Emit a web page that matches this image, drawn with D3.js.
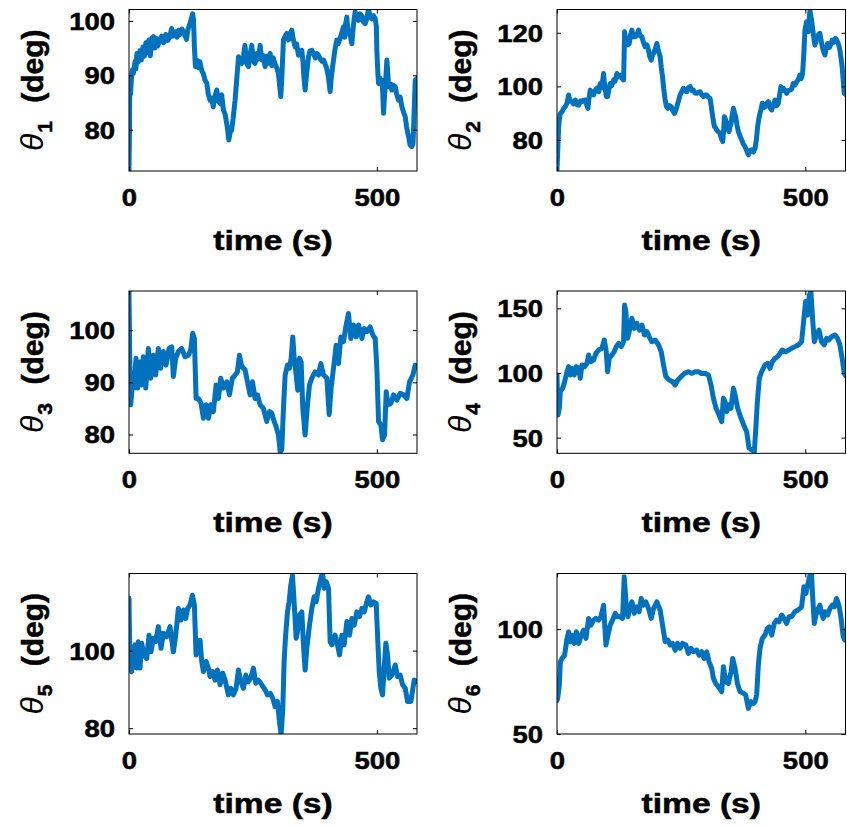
<!DOCTYPE html>
<html><head><meta charset="utf-8">
<script src="https://cdn.jsdelivr.net/npm/d3@7"></script>
<style>body{margin:0;background:#fff} svg{display:block}</style>
</head><body>
<svg id="c" width="847" height="826"></svg>
<script>
// ---------- DATA ----------
const xTicks = [0, 500];
const xLimits = [0, 581];

const time1 = [0,1,1.5,3,5,7,9,12,14,16,19,22,25,28,31,34,37,40,43,46,49,52,55,58,62,66,70,74,78,82,86,89,93,97,100,103,107,111,116,119,122,126,128.5,130,132,134,137,140,143,147,150,153,157,160,163.5,167,170,173,177,180,184,187,190.5,194,197,199,201.3,204,207,210,214,218,221,224,227.5,231,234,237,241,244,247.7,251,254.4,258,261,264.5,268,271,274.6,278,281,284.7,288,291,294.8,298,301.5,304,306.2,308.5,311.6,315,318.3,322,325,328.4,331,335.2,338,341.9,345,348.6,351,353,355.3,358,362.1,365,368.8,372,376,379,382.3,386,389,392.4,396,399,402.5,405.8,408,412.5,416,419.3,422,426,429,432.7,435,437,439.5,441,442.8,446,449.6,452,454,456.3,459,463,466,469.8,473,476.5,480,483.2,486,490,493,496.7,499,500,502,503.4,506,508,510.1,512,513.5,515,516.9,518.5,520.2,522,523.6,527,530.3,533,537.1,540,543.8,547,550.5,554,557.2,560,564,567,570.7,573,574,577.4,580.8];
const theta1 = [72.6,80,86.7,86.5,89.5,91,90.4,92.5,91.2,94,92.5,94.5,92.8,95.2,93.5,96,94.2,96.5,93.6,96.8,97.1,95,96.8,95.4,96.5,97.2,96,97.5,96.4,97,98.6,97.2,98,97,98.3,97.5,98.5,97.8,96.6,98.5,99.2,100.6,101.3,100.5,95,91.6,92.8,91.4,92.5,90.8,90.3,89.2,88.5,86.5,85.4,85.8,84.2,86,87.3,85.3,84.8,86.4,83.6,82.8,81.2,80,78.1,79.5,79.9,82,85.4,90,93.4,92.5,92.2,93.6,95.5,92.3,91.6,93.8,95.5,92.5,92.2,94,93,95.5,92.8,93.6,91.6,93.5,92.2,94,91.8,93.2,92,91.4,90.3,88,86.1,90,96.5,97.2,97.7,96.5,97.5,98.3,96.8,95.2,95.8,93.7,94.4,94.6,92.5,89.5,87.3,90,93.4,94.5,94.6,94,93.2,94,93.7,93,92.6,92.8,92,91.2,89.5,87,89.5,92.8,95,96.5,95.8,96.8,97.8,98.9,97,99.5,100.7,99,97.7,97.5,95.8,98.5,100.2,101.7,100.8,100.1,101.3,100.9,99.8,99.5,100.5,102.3,100.8,100.4,101,100.4,99,94.6,90.5,88.5,89.5,88.6,89.1,86.5,83,85.5,87.9,90,92.8,90.5,87.9,88.4,87.3,88.2,87.9,86.5,85.4,86,84.2,83.2,82.4,80.5,78.7,77.2,76.9,77.5,80,89.1,89.4];
const yTicks1 = [80, 90, 100];
const yLimits1 = [72.4, 102.1];

const time2 = [0,1.3,3.4,5,6.7,10,13.4,17,20.1,23.5,26,30.2,33,36.9,40,43.6,47,50.3,53,57,60,62.3,64,67,70,73.7,77,80.4,84,87.1,90,93.8,95.5,97.2,99.5,101.9,104.5,107.2,110,113.9,117,120.6,124,127.3,131,134,135,136.1,138,140.7,143,145.4,148,150.8,154,157.5,161,164.2,167,170.9,174,177.6,181,184.3,187,189.7,192,194.4,198,201.1,204.5,207.8,210,212.5,215,217.8,220.5,223.2,226.5,229.9,233,236.6,239,241.3,244.5,248,251,254.7,258,261.4,264.5,268.1,271.5,274.8,278,281.5,285,288.2,291.5,294.9,298,301.6,305,308.3,310,311.6,314,317,319.5,321.7,325,328.4,331,333.8,335.5,337.1,339.5,341.8,344,346.5,348.5,350.5,353,355.2,357.5,359.9,362.5,365.3,368.5,372,375,378.7,382,385.4,388.5,392.1,395.5,398.8,401.5,404.1,406.5,408.8,411,413.5,416,418.9,422,425.6,429,432.3,435.5,439,442.5,445.7,448.5,451,453.5,455.7,459,462.4,465.8,469.1,472.5,475.8,479,482.5,486,489.2,492,494.6,497,499.3,501,502.7,504.5,506,507.8,509.4,511,512.7,514.5,516.1,518,519.4,522,524.8,527,529.5,532,534.2,537,539.5,542,544.9,547.5,549.6,552,554.3,557.5,561,564,566.3,568,569.7,572,574.3,576.5,578.4,581];
const theta2 = [68.8,75,85,88,89.9,90.5,91.8,92.5,93.7,96.8,94.5,94.3,93.5,94.9,93.2,93,94.5,94.3,94.8,94.9,93,91.8,95,98.6,97.2,96.8,98.5,99.3,98,101.1,99.5,104.8,101,98.6,96.2,96.2,99,101.1,100.2,102.4,102,104.8,103.5,104.2,103,102.4,110,120.4,118,117.3,115.5,116,119,121,118.5,118.5,119.2,121,119,118.5,116.5,114.8,115.5,113.5,111,109.8,111.5,112.3,114,116,113,111.1,107,103.6,99,94.9,92.5,91.8,92.8,92.4,91,89.9,91,92.4,94.5,96.8,98,99.3,98.3,98,99.5,99.9,98.5,98.6,97.5,97.4,97.8,98,96.8,96.2,96.8,96.8,96,95.5,93.5,91.2,88,85,84.5,83.7,83,82.5,80.5,79.4,83,88.7,87.5,86.2,84.5,83.1,85,86.2,89.5,91.8,90,88.7,85.5,83.1,81.5,80,78.5,77.5,76,74.4,76,76.3,75.5,76.9,80,85,88,89.9,91.5,93.7,92,92.4,93.5,94.3,92,91.2,93,94.9,92.8,93.7,97,99.9,98.5,99.3,98.5,97.4,98.5,98.6,99,101.1,100.5,101.7,102.5,104.2,103,104.8,112,121,122.5,124.1,122,120.4,125,128.4,126.5,124.7,122,119.8,117,115.4,117,117.9,119.5,119.8,117,114.8,113,111.7,114,116,114.5,114.8,116,117.3,116.5,117.9,117,116,115,113.5,110.5,107.3,102,97.4,97];
const yTicks2 = [80, 100, 120];
const yLimits2 = [68.4, 128.7];

const time3 = [0,1.5,3.4,5.5,7.4,10.1,14.1,17.5,22.2,25.6,28.9,33.7,39,43.7,49.1,53.8,59.2,63.9,69.3,74.7,80.8,86.1,89.5,94.2,99.6,106.3,113.1,119.8,124.5,128.5,131.9,135.3,140,145.4,150.1,155.5,160.2,164.9,170.3,175.7,180.4,185.1,190.5,197.2,202.6,208.6,214,218.7,222.8,227.5,234.2,238.9,244.3,249,254.4,259.1,264.5,271.2,277.9,283.3,288,292.8,296.8,301.5,304.9,308.2,311.6,315,319.7,323.7,327.1,330.4,333.1,337.2,340.5,343.9,347.3,350.6,355.3,360.1,364.1,368.8,375.5,382.3,387,392.4,399.1,403.8,407.8,412.5,417.9,422.6,427.4,432.7,438.1,442.8,447.5,452.9,458.3,463,469.8,474.5,479.8,486.6,492,496.7,500,503.4,508.1,511.5,515.5,518.9,522.2,528.3,533.7,540.4,547.1,553.9,560.6,566,572.7,577.4,580.8];
const theta3 = [107.3,95,85.7,88,91.4,88.9,94.6,88.9,93.9,89.5,94.9,88.9,96.5,90.8,95.2,91.4,96.5,92.7,95.9,93.3,96.5,96.8,91.1,94.6,95.9,96.5,94.9,95.2,96.2,99.4,98.4,86.9,86.9,86,83.1,85.7,83.1,85.7,84.4,89.5,86.9,90.8,88.9,90.1,87.6,90.8,91.4,92,95.2,93,92.4,90.1,87.6,90.1,86.9,87.6,85.7,85,82.5,84.4,84.1,82.5,81.5,79.9,76.7,77.1,85,91.4,93.3,92.7,94.6,98.7,94.9,91.4,88.5,94.6,93.9,85,79.9,85.7,89.5,90.8,92,91.4,93.6,91.4,90.8,83.8,88.9,92.7,97.1,93.6,98.7,97.8,101,103.2,98.4,101,98.7,101,98.4,100.3,99.7,100.6,99,98.4,92.7,82.5,81.8,79,79.9,88.2,85.7,86,87.6,86.6,87.9,87.6,86.9,90.1,91.4,93.3,93];
const yTicks3 = [80, 90, 100];
const yLimits3 = [76.4, 107.5];

const time4 = [0,2,4.7,6.7,11.4,15.4,20.1,23.5,26.8,30.2,34.9,38.9,43.6,46.9,50.3,55.6,60.3,63.7,68.4,73.7,78.4,83.8,90.5,95.2,99.2,101.9,105.2,110.6,115.3,119.3,124,129.4,134,136.1,138.7,142.1,145.4,150.8,155.5,160.8,166.2,170.9,176.3,181,185.6,191,197.7,204.4,209.8,214.5,219.2,225.9,232.6,237.9,243.3,250,256.7,264.7,271.4,278.1,284.8,290.2,298.2,304.9,310.3,315,320.4,326.4,331.7,335.1,338.5,341.8,346.5,350.5,355.2,358.6,363.9,370.6,377.3,382,386.7,392.1,397.4,400.8,403.5,407.5,412.2,418.9,424.2,428.9,433.6,439,444.3,449,453.7,460.4,467.1,472.5,479.2,485.9,492.6,497.3,500.6,504.7,508,511.4,514.7,518.1,522.8,527.5,532.8,538.2,542.9,547.6,552.9,559.6,565,569.7,574.3,578.4,581];
const theta4 = [98.5,67.5,72.7,85.6,88.2,93.3,101,104.9,98.5,103.6,98.5,104.9,103.6,95.9,106.2,104.9,107.5,113.9,108.8,110.1,115.2,117.8,119.1,125.5,116.5,101,111.3,113.9,116.5,120.4,122.9,120.4,124.2,152.6,147.4,126.8,132,142.3,134.5,138.4,133.2,137.1,129.4,132,128.1,124.2,125.5,121.7,116.5,106.2,97.2,94.6,93.3,90.7,94.6,97.2,99.7,101,99.7,101,101,99.7,99.7,98.5,90.7,80.4,72.7,67.5,62.4,80.4,77.8,70.1,75.3,72.7,88.2,83,72.7,65,58.5,54.6,41.8,40.5,39.2,59.8,77.8,96,101,106.2,107.5,103.6,108.8,111.3,112.6,115.2,117.8,116.5,117.8,119.1,120.4,121.7,124.2,142.3,155.2,144.8,160.3,162.9,142.3,124.2,129.4,133.2,124.2,121.7,126.8,125.5,128.1,129.4,126.8,121.7,111.3,99.7,98];
const yTicks4 = [50, 100, 150];
const yLimits4 = [37.9, 163.4];

const time5 = [0,2,5.4,8.7,12.1,15.5,18.8,22.2,25.6,30.3,35.7,40.4,44.4,49.1,53.8,59.2,64.6,69.3,76,82.8,89.5,94.2,99.6,105,109.7,114.4,118.4,123.2,127.9,131.9,135.3,140,143.3,146.7,150.1,155.5,160.2,163.5,168.9,173.6,178.3,183.7,189.1,193.8,200.5,205.3,210.6,216,220.8,225.5,230.8,235.6,240.9,245.6,251,255.7,261.1,267.9,274.6,279.3,284.7,290.1,294.8,299.5,303.5,306.9,310.3,312.9,315.6,319.7,323,326.4,329.8,333.1,337.2,340.5,343.9,348.6,352,355.3,358.7,364.1,368.8,373.5,377.6,382.3,387,390.3,393.7,397.7,402.5,405.8,409.2,415.9,420.6,424.7,429.4,434.1,439.5,444.9,449.6,454.3,459.7,465,469.8,474.5,479.8,483.2,487.9,493.3,498.7,501.4,504.8,508.1,511.5,514.8,518.2,521.6,524.9,530.3,537.1,541.8,547.1,551.9,557.2,562,568.7,572.7,575.4,580.8];
const theta5 = [113.5,96.3,94.6,99.7,101.5,95.5,102.3,95.5,101.9,98.9,98,104,99.7,103.2,102.3,106.2,100.6,104.5,103.6,106.2,99.7,104,110.9,107.9,110.5,108.3,110.9,111.8,114.3,111.8,98.9,100.6,102.7,97.2,94.6,97.2,95.5,93.3,94.6,92.4,95,91.2,94.2,92.4,88.6,90.3,88.6,90.3,95,92,90.3,93.7,92,92.9,95.5,91.6,92.4,91.2,89.9,88.6,89,87.7,85.6,86.9,81.7,78.3,85.1,97.2,103.2,110,112.6,116.9,119.5,112.6,103.2,105.3,109.2,110,101.5,95,100.6,106.6,110.9,113.9,112.6,116.1,118.6,120.3,116.1,117.8,116.1,102.3,101.5,104,101.5,98.9,104,101.5,107.5,104,108.3,106.6,110,108.8,110.9,110,112.6,113.9,111.8,112.6,112.2,104,94.6,90.3,88.6,95.5,101.9,98.9,92.9,93.7,96.3,93.3,93.7,91.2,90.3,86.9,86.9,90.3,92.4,92];
const yTicks5 = [80, 100];
const yLimits5 = [78.5, 119.9];

const time6 = [0,1.3,4.7,6.7,10.1,15.4,20.1,23.5,26.8,30.2,34.9,38.9,43.6,48.9,53.6,58.3,63.7,68.4,73.7,78.4,83.8,88.5,93.8,98.5,102.5,107.2,111.9,117.3,122,127.3,132,135.4,139.4,142.8,146.1,150.8,155.5,160.8,165.5,169.6,174.3,179,184.3,189.7,194.4,201.1,207.8,212.5,217.8,223.2,227.9,232.6,237.9,242.6,248,252.7,259.4,264.7,270.1,274.8,281.5,286.2,291.5,296.2,301.6,306.3,311.6,315,319.7,325,331.7,335.1,339.8,345.2,350.5,353.9,358.6,363.3,368.6,375.3,380,385.4,390.1,395.4,398.8,402.1,405.5,408.8,413.5,418.9,423.6,427.6,432.3,437.6,442.3,447,452.4,457.1,462.4,467.1,472.5,479.2,484.5,489.2,492.6,497.3,501.3,504.7,509.4,512.7,514.7,518.1,521.5,526.1,529.5,532.8,536.2,539.5,544.9,549.6,554.3,558.3,563,567.6,571.7,576.4,579.7];
const theta6 = [66,67,73.3,84.4,86,87.6,95.6,98.7,94,97.1,93.2,98.7,93.2,97.1,99.5,95.6,105.1,101.9,104.3,105.1,104.3,105.9,111.4,92.4,97.1,101.9,104.3,107.5,105.9,105.9,105.1,124.9,111.4,105.9,109.8,113,107.5,110.6,108.3,114.6,111.4,113,109.8,105.1,109.8,113,109,101.9,94,94.8,92.4,93.2,90,93.2,90.8,93.2,92.4,88.4,90.8,89.2,90,87.6,89.2,86,89.2,84.4,81.3,76.5,74.1,72.5,70.2,82.1,74.9,74.1,79.7,86,81.3,74.1,70.2,69.4,68.6,62.2,65.4,64.6,65.4,68.6,82.9,90.8,95.6,97.1,100.3,101.1,97.1,102.7,104.3,103.5,106.7,105.1,102.7,105.9,105.9,108.3,109,109.8,110.6,120.2,117,120.9,125.7,126.5,116.2,102.7,106.7,109.8,111.4,107.5,105.1,108.3,106.7,109.8,111.4,110.6,114.6,111.4,105.9,96.3,94.8];
const yTicks6 = [50, 100];
const yLimits6 = [50, 126.5];

const subscripts = ["1", "2", "3", "4", "5", "6"];
const xLabelText = "time (s)";
const yLabelUnit = "(deg)";

// ---------- DRAWING ----------
const series = [
  {t: time1, v: theta1, ticks: yTicks1, lim: yLimits1},
  {t: time2, v: theta2, ticks: yTicks2, lim: yLimits2},
  {t: time3, v: theta3, ticks: yTicks3, lim: yLimits3},
  {t: time4, v: theta4, ticks: yTicks4, lim: yLimits4},
  {t: time5, v: theta5, ticks: yTicks5, lim: yLimits5},
  {t: time6, v: theta6, ticks: yTicks6, lim: yLimits6}
];

const svg = d3.select("#c");
const FONT = "'Liberation Sans', Arial, Helvetica, sans-serif";
const colX = [129, 557];
const colW = [288, 288.5];
const rowY = [9.5, 291, 573.5];
const rowH = [161.5, 162.3, 160.5];
const tickStretch = 1.17, labelStretch = 1.2;
const lineColor = "#0072BD";

series.forEach((s, i) => {
  const col = i % 2, row = Math.floor(i / 2);
  const x0 = colX[col], y0 = rowY[row], w = colW[col], h = rowH[row];
  const x = d3.scaleLinear().domain(xLimits).range([x0, x0 + w]);
  const y = d3.scaleLinear().domain(s.lim).range([y0 + h, y0]);
  const g = svg.append("g");

  const clipId = "clip" + i;
  svg.append("clipPath").attr("id", clipId).append("rect")
    .attr("x", x0).attr("y", y0).attr("width", w).attr("height", h);

  const pts = s.t.map((t, k) => [t, s.v[k]]);
  g.append("path")
    .datum(pts)
    .attr("clip-path", `url(#${clipId})`)
    .attr("fill", "none")
    .attr("stroke", lineColor)
    .attr("stroke-width", 5)
    .attr("stroke-linejoin", "round")
    .attr("stroke-linecap", "round")
    .attr("d", d3.line().x(d => x(d[0])).y(d => y(d[1])));

  // box
  g.append("rect").attr("x", x0).attr("y", y0).attr("width", w).attr("height", h)
    .attr("fill", "none").attr("stroke", "#000").attr("stroke-width", 1);

  const styleAxis = sel => {
    sel.select(".domain").remove();
    sel.selectAll(".tick line").attr("stroke", "#000").attr("stroke-width", 1);
    sel.selectAll(".tick text").attr("fill", "#000")
      .attr("stroke", "#000").attr("stroke-width", 0.5)
      .attr("font-family", FONT).attr("font-weight", "bold").attr("font-size", 23.5);
  };

  // bottom axis
  const gb = g.append("g").attr("transform", `translate(0,${y0 + h})`)
    .call(d3.axisBottom(x).tickValues(xTicks).tickSizeInner(-4).tickSizeOuter(0).tickFormat(d3.format("d")));
  styleAxis(gb);
  gb.selectAll(".tick text").attr("y", 0).attr("dy", 0)
    .attr("transform", `translate(0,34.5) scale(${tickStretch},1)`);

  // top axis (ticks only)
  const gt = g.append("g").attr("transform", `translate(0,${y0})`)
    .call(d3.axisTop(x).tickValues(xTicks).tickSizeInner(-4).tickSizeOuter(0).tickFormat(""));
  styleAxis(gt);

  // left axis
  const gl = g.append("g").attr("transform", `translate(${x0},0)`)
    .call(d3.axisLeft(y).tickValues(s.ticks).tickSizeInner(-4).tickSizeOuter(0).tickFormat(d3.format("d")));
  styleAxis(gl);
  gl.selectAll(".tick text").attr("x", 0).attr("dy", "0.36em")
    .attr("text-anchor", "end")
    .attr("transform", `translate(-14,0) scale(${tickStretch},1)`);

  // right axis (ticks only)
  const gr = g.append("g").attr("transform", `translate(${x0 + w},0)`)
    .call(d3.axisRight(y).tickValues(s.ticks).tickSizeInner(-4).tickSizeOuter(0).tickFormat(""));
  styleAxis(gr);

  // x label
  g.append("text")
    .attr("transform", `translate(${x0 + w / 2},${y0 + h + 79}) scale(${labelStretch},1)`)
    .attr("text-anchor", "middle")
    .attr("font-family", FONT).attr("font-weight", "bold").attr("font-size", 28)
    .attr("fill", "#000").attr("stroke", "#000").attr("stroke-width", 0.5)
    .text(xLabelText);

  // y label
  const yl = g.append("text")
    .attr("transform", `translate(${x0 - 86},${y0 + h / 2}) rotate(-90)`)
    .attr("text-anchor", "middle")
    .attr("font-family", FONT).attr("font-weight", "bold").attr("font-size", 30)
    .attr("fill", "#000");
  yl.append("tspan").attr("font-style", "italic").attr("font-weight", "normal").attr("font-size", 32).text("\u03B8");
  yl.append("tspan").attr("font-size", 21).attr("dy", 9).attr("dx", 1)
    .attr("stroke", "#000").attr("stroke-width", 0.5).text(subscripts[i]);
  yl.append("tspan").attr("dy", -9).attr("dx", 10)
    .attr("stroke", "#000").attr("stroke-width", 0.5).text(" " + yLabelUnit);
});
</script>
</body></html>
